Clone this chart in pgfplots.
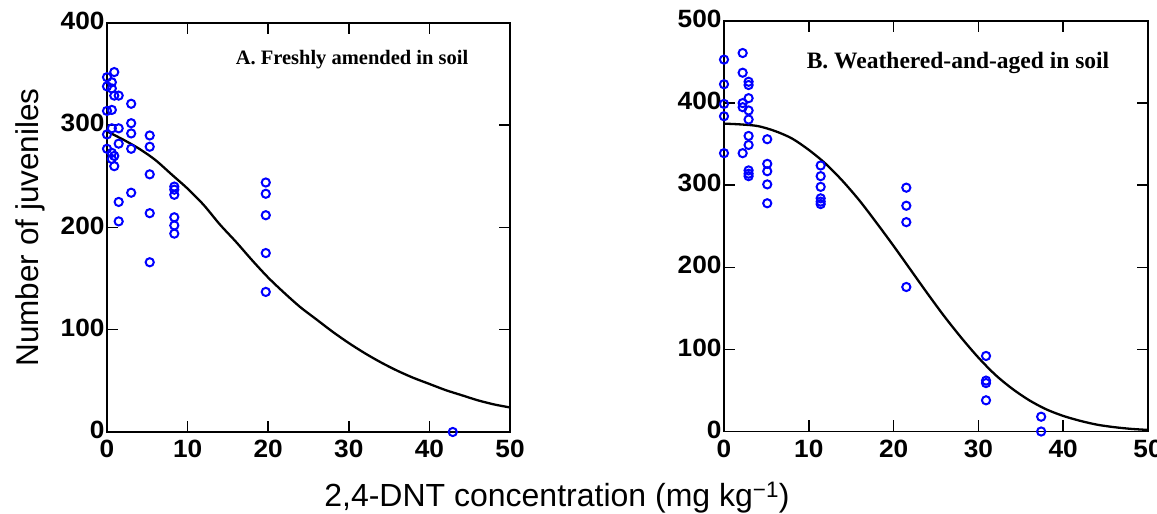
\documentclass[border=0pt]{standalone}
\usepackage{pgfplots}
\pgfplotsset{compat=1.18}
\usepackage{fontspec}
\setmainfont{Liberation Sans}
\newfontfamily\tickfont{Liberation Sans}[FakeStretch=1.05]
\newfontfamily\serifb{Liberation Serif}
\definecolor{ptblue}{RGB}{0,0,255}

\pgfplotstableread{
x y
0 347
0 338
0 314
0 291
0 277
0.6 342
0.6 336
0.6 315
0.6 297
0.6 273
0.6 267
0.9 352
0.9 329
0.9 270
0.9 260
1.45 329
1.45 297
1.45 282
1.45 225
1.45 206
3.0 321
3.0 302
3.0 292
3.0 277
3.0 234
5.3 290
5.3 279
5.3 252
5.3 214
5.3 166
8.35 240
8.35 237
8.35 232
8.35 210
8.35 202
8.35 194
19.7 244
19.7 233
19.7 212
19.7 175
19.7 137
42.9 0
}\ptsA

\pgfplotstableread{
x y
0 294
2 286
4 277
6 266
8 252
10 238
12 222
14 203
16 186
18 168
20 151
22 136
24 122
26 110
28 98
30 87
32 77
34 68
36 60
38 53
40 47
42 41
44 36
46 31
48 27
50 24
}\fitA

\pgfplotstableread{
x y
0 453
0 423
0 399
0 384
0 339
2.2 461
2.2 437
2.2 400
2.2 395
2.2 339
2.9 426
2.9 422
2.9 406
2.9 391
2.9 380
2.9 360
2.9 349
2.9 318
2.9 314
2.9 311
5.1 356
5.1 326
5.1 317
5.1 301
5.1 278
11.4 324
11.4 311
11.4 298
11.4 284
11.4 280
11.4 277
21.5 297
21.5 275
21.5 255
21.5 176
30.9 92
30.9 62
30.9 59
30.9 38
37.4 18
37.4 0
}\ptsB

\pgfplotstableread{
x y
0 375
2 374
4 372
6 366
8 357
10 343
12 326
14 305
16 281
18 254
20 226
22 197
24 168
26 140
28 114
30 90
32 69
34 52
36 38
38 27
40 19
42 13
44 8.3
46 5.3
48 3.2
50 1.9
}\fitB

\pgfplotsset{
  myax/.style={
    scale only axis,
    xmin=0, xmax=50,
    xtick={0,10,20,30,40,50},
    ymin=0,
    tick align=inside,
    major tick length=11bp,
    every tick/.style={black, line width=1.5bp},
    axis line style={line width=1.8bp},
    tick label style={font=\tickfont\bfseries\fontsize{25bp}{29bp}\selectfont},
    xticklabel style={yshift=-5bp},
    yticklabel style={xshift=1bp, yshift=2bp},
    /pgf/number format/assume math mode=true,
    clip=false,
  },
  ptstyle/.style={only marks, mark=o, mark size=4.1bp, mark options={ptblue, line width=2bp}},
  fitstyle/.style={black, line width=2.3bp, smooth, mark=none},
}

\begin{document}
\begin{tikzpicture}
\useasboundingbox (0,0) rectangle (1157bp,514bp);

\begin{axis}[myax,
  at={(107bp,82bp)}, anchor=south west,
  width=403bp, height=409bp,
  ymax=400, ytick={0,100,200,300,400},
  ylabel={Number of juveniles},
  ylabel style={at={(axis description cs:-0.19,0.5)}, anchor=center, rotate=0,
    font=\fontsize{31.5bp}{36bp}\selectfont},
]
\addplot[fitstyle] table[x=x,y=y] {\fitA};
\addplot[ptstyle] table[x=x,y=y] {\ptsA};
\node[font=\serifb\bfseries\fontsize{20.5bp}{24bp}\selectfont] at (axis cs:30.4,364) {A. Freshly amended in soil};
\end{axis}

\begin{axis}[myax,
  at={(724bp,82.5bp)}, anchor=south west,
  width=424bp, height=410.5bp,
  ymax=500, ytick={0,100,200,300,400,500},
]
\addplot[fitstyle] table[x=x,y=y] {\fitB};
\addplot[ptstyle] table[x=x,y=y] {\ptsB};
\node[font=\serifb\bfseries\fontsize{23.5bp}{27bp}\selectfont] at (axis cs:27.6,449) {B. Weathered-and-aged in soil};
\end{axis}

\node[font=\fontsize{32bp}{36bp}\selectfont, anchor=base] at (557bp,8bp) {2,4-DNT concentration (mg kg\textsuperscript{−1})};
\end{tikzpicture}
\end{document}
